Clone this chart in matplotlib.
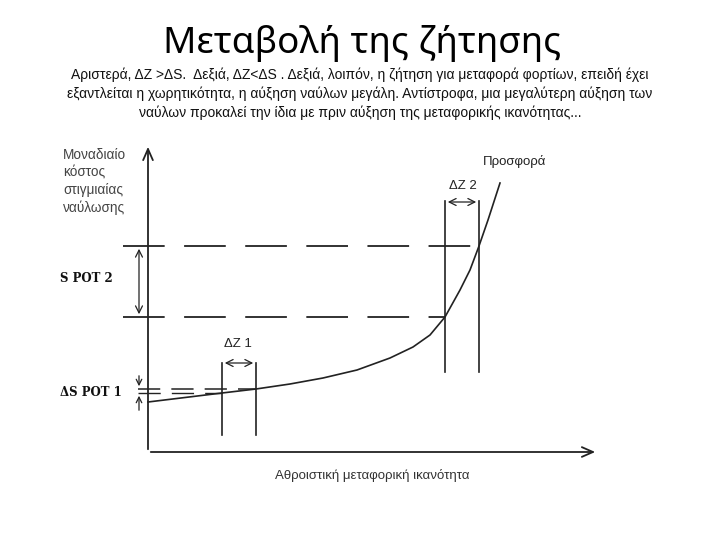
import matplotlib
matplotlib.use("Agg")
import matplotlib.pyplot as plt

plt.rcParams['lines.scale_dashes'] = False

# ---- data (diagram units: x = capacity, y = unit spot cost) ----
curve_x = [0, 37, 74, 108, 142, 175, 209, 242, 265, 282, 297, 312, 322, 331, 340, 352]
curve_y = [50, 54.5, 59, 63, 68, 74, 82, 94, 105, 117, 135, 162, 182, 206, 232, 269]
z1 = [74, 108]          # ΔZ1 capacity interval
z2 = [297, 331]         # ΔZ2 capacity interval
spot1 = [59, 63]        # ΔSPOT1 price levels
spot2 = [135, 206]      # SPOT2 price levels
x_max, y_max = 450, 308

title = "Μεταβολή της ζήτησης"
subtitle = ["Αριστερά, ΔΖ >ΔS.  Δεξιά, ΔΖ<ΔS . Δεξιά, λοιπόν, η ζήτηση για μεταφορά φορτίων, επειδή έχει",
            "εξαντλείται η χωρητικότητα, η αύξηση ναύλων μεγάλη. Αντίστροφα, μια μεγαλύτερη αύξηση των",
            "ναύλων προκαλεί την ίδια με πριν αύξηση της μεταφορικής ικανότητας..."]
ylabel_lines = ["Μοναδιαίο", "κόστος", "στιγμιαίας", "ναύλωσης"]
xlabel = "Αθροιστική μεταφορική ικανότητα"

W, H = 720, 540
fig = plt.figure(figsize=(7.2, 5.4), dpi=100)
fig.patch.set_facecolor("white")

def fx(px):
    return px / W

def fy(py):
    return 1 - py / H

# title and subtitle
fig.text(fx(362), fy(43), title, ha="center", va="center", fontsize=26.5,
         family="Noto Sans", color="black")
for i, line in enumerate(subtitle):
    fig.text(fx(360), fy(75 + i * 19), line, ha="center", va="center",
             fontsize=10, family="Liberation Sans", color="#111111")

ax = fig.add_axes([fx(148), fy(452), 450 / W, 308 / H])
ax.set_xlim(0, x_max)
ax.set_ylim(0, y_max)
ax.axis("off")

lc = "#222222"
# axes with open arrowheads
ax.annotate("", xy=(0, y_max), xytext=(0, 0),
            arrowprops=dict(arrowstyle="->,head_length=0.8,head_width=0.35", lw=1.3, color=lc),
            annotation_clip=False)
ax.annotate("", xy=(x_max, 0), xytext=(0, 0),
            arrowprops=dict(arrowstyle="->,head_length=0.8,head_width=0.35", lw=1.3, color=lc),
            annotation_clip=False)

# supply curve
ax.plot(curve_x, curve_y, color=lc, lw=1.2, clip_on=False, solid_joinstyle="round")

dash = (0, (30, 14))
# SPOT2 dashed levels
ax.plot([-25, z2[1]], [spot2[1], spot2[1]], color=lc, lw=1.3, linestyle=dash, clip_on=False)
ax.plot([-25, z2[0]], [spot2[0], spot2[0]], color=lc, lw=1.3, linestyle=dash, clip_on=False)
# ΔSPOT1 dashed levels
ax.plot([-10, z1[1]], [spot1[1], spot1[1]], color=lc, lw=1.1, linestyle=(0, (16, 8)), clip_on=False)
ax.plot([-10, z1[0]], [spot1[0], spot1[0]], color=lc, lw=1.0, linestyle=(0, (16, 8)), clip_on=False)

# ΔZ1 verticals
for xv in z1:
    ax.plot([xv, xv], [17, 89], color=lc, lw=1.2, clip_on=False)
ax.annotate("", xy=(z1[0], 89), xytext=(z1[1], 89),
            arrowprops=dict(arrowstyle="<->,head_length=0.5,head_width=0.25", lw=0.9, color=lc))
# ΔZ2 verticals
for xv in z2:
    ax.plot([xv, xv], [80, 251], color=lc, lw=1.2, clip_on=False)
ax.annotate("", xy=(z2[0], 250), xytext=(z2[1], 250),
            arrowprops=dict(arrowstyle="<->,head_length=0.5,head_width=0.25", lw=0.9, color=lc))

# SPOT2 double arrow
ax.annotate("", xy=(-9, spot2[1]), xytext=(-9, spot2[0]),
            arrowprops=dict(arrowstyle="<->,head_length=0.5,head_width=0.25", lw=0.9, color=lc),
            annotation_clip=False)
# ΔSPOT1 arrows
ax.annotate("", xy=(-9, spot1[1]), xytext=(-9, spot1[1] + 16),
            arrowprops=dict(arrowstyle="->,head_length=0.4,head_width=0.2", lw=0.9, color=lc),
            annotation_clip=False)
ax.annotate("", xy=(-9, spot1[0]), xytext=(-9, spot1[0] - 20),
            arrowprops=dict(arrowstyle="->,head_length=0.4,head_width=0.2", lw=0.9, color=lc),
            annotation_clip=False)

# diagram labels
fig.text(fx(60), fy(279), "S POT 2", ha="left", va="center", fontsize=8.5,
         family="DejaVu Serif", weight="bold", color="#111111")
fig.text(fx(60), fy(392), "ΔS POT 1", ha="left", va="center", fontsize=8.5,
         family="DejaVu Serif", weight="bold", color="#111111")
fig.text(fx(238), fy(344), "ΔZ 1", ha="center", va="center", fontsize=9.5,
         family="Liberation Sans", color="#222222")
fig.text(fx(463), fy(186), "ΔZ 2", ha="center", va="center", fontsize=9.5,
         family="Liberation Sans", color="#222222")
fig.text(fx(515), fy(162), "Προσφορά", ha="center", va="center", fontsize=9.5,
         family="Liberation Sans", color="#222222")
fig.text(fx(372), fy(476), xlabel, ha="center", va="center", fontsize=9.5,
         family="Liberation Sans", color="#333333")
for i, line in enumerate(ylabel_lines):
    fig.text(fx(63), fy(155 + i * 17.5), line, ha="left", va="center", fontsize=9.8,
             family="Liberation Sans", color="#444444")

fig.savefig("out.png", dpi=100, facecolor="white")
